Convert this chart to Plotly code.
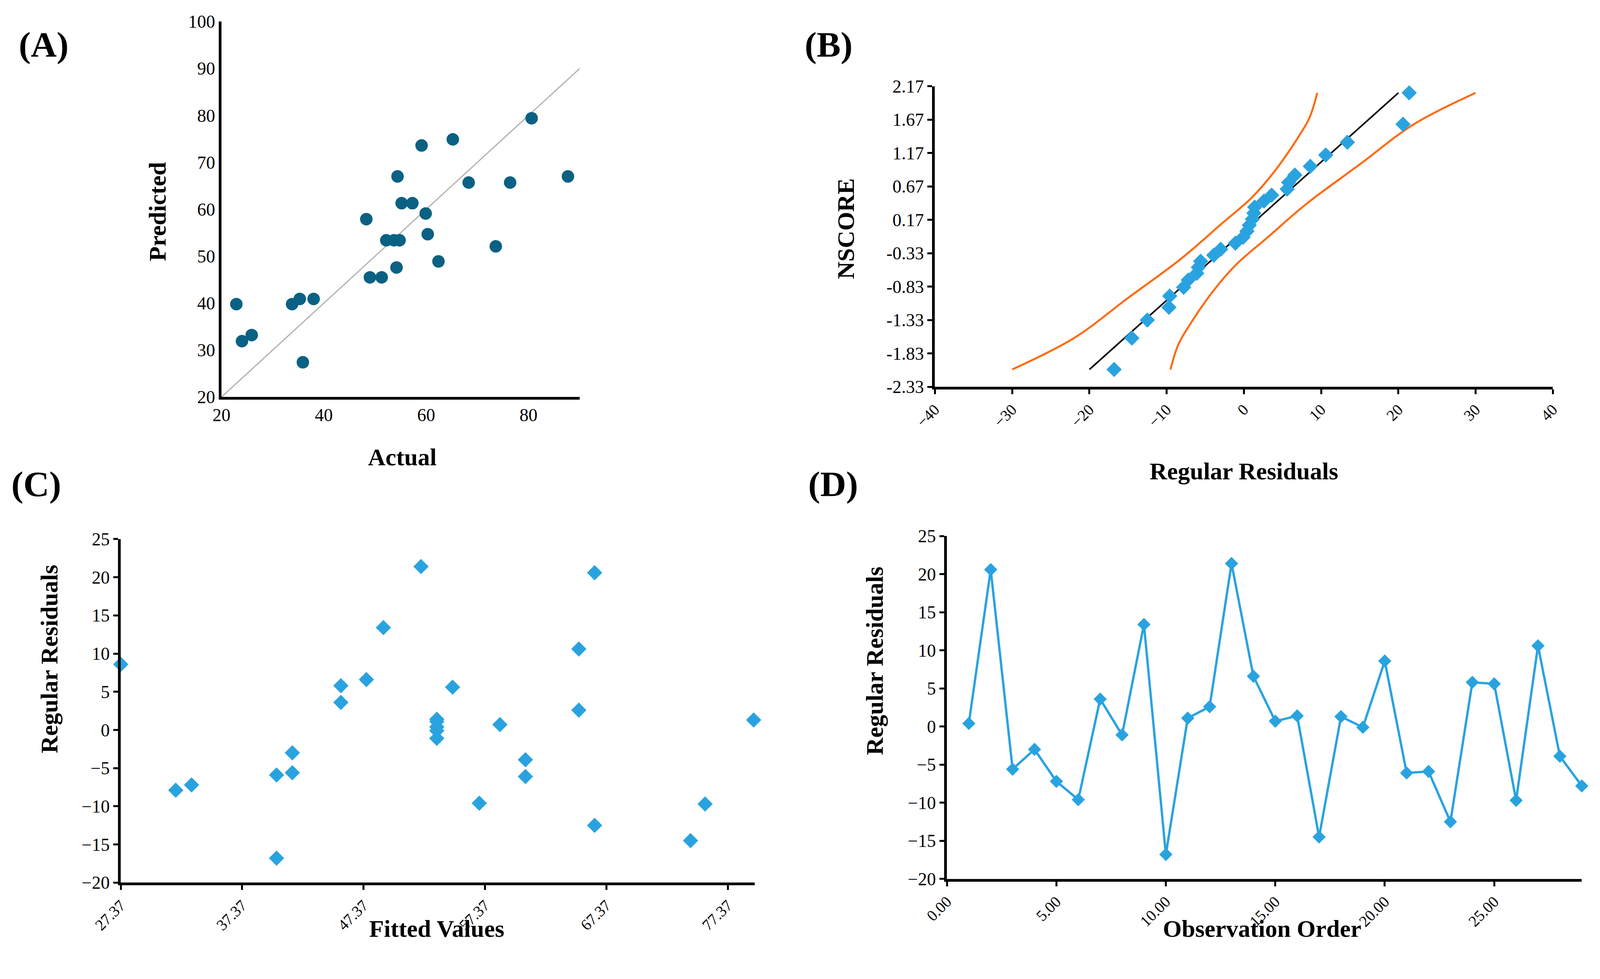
import plotly.graph_objects as go

W, H = 4236, 2506
# Panel A
actual = [22.9,24.0,25.9,33.8,35.3,38.0,35.9,48.3,49.0,51.3,52.2,53.7,54.8,54.2,54.4,55.2,57.3,59.1,59.9,60.3,62.4,65.2,68.3,73.6,76.4,80.6,87.7]
predicted = [39.8,31.9,33.2,39.8,40.9,40.9,27.4,57.9,45.5,45.5,53.4,53.4,53.4,47.6,67.0,61.3,61.3,73.6,59.1,54.7,48.9,74.9,65.7,52.1,65.7,79.4,67.0]
diag = [20, 90]
# Panel B
resid_sorted = [-16.8,-14.5,-12.5,-9.7,-9.6,-7.8,-7.2,-6.1,-5.9,-5.6,-3.9,-3.0,-1.1,-0.1,0.4,0.7,1.1,1.3,1.4,2.6,3.6,5.6,5.8,6.6,8.6,10.6,13.4,20.6,21.4]
nscore = [-2.07,-1.6,-1.33,-1.14,-0.97,-0.84,-0.73,-0.63,-0.54,-0.45,-0.36,-0.27,-0.18,-0.09,0.0,0.09,0.18,0.27,0.36,0.45,0.54,0.63,0.73,0.84,0.97,1.14,1.33,1.6,2.07]
fit_x = [-20, 20]
fit_y = [-2.07, 2.07]
up_x = [-30,-22,-15,-8,-3,1,4,7,8.5,9.5]
up_y = [-2.07,-1.6,-1.0,-0.4,0.1,0.5,0.9,1.4,1.7,2.07]
lo_x = [-9.5,-8.5,-7,-4,-1,3,8,15,22,30]
lo_y = [-2.07,-1.7,-1.4,-0.9,-0.5,-0.1,0.4,1.0,1.6,2.07]
nscore_ticks = [-2.33,-1.83,-1.33,-0.83,-0.33,0.17,0.67,1.17,1.67,2.17]
# Panel C
fitted = [27.37,31.9,33.2,40.2,40.2,41.5,41.5,45.5,45.5,47.6,49.0,52.1,53.4,53.4,53.4,53.4,53.4,54.7,56.9,58.6,60.7,60.7,65.1,65.1,66.4,66.4,74.3,75.5,79.5]
resid_c = [8.6,-7.9,-7.2,-5.9,-16.8,-3.0,-5.6,5.8,3.6,6.6,13.4,21.4,1.4,1.1,0.4,-0.1,-1.1,5.6,-9.6,0.7,-3.9,-6.1,10.6,2.6,20.6,-12.5,-14.5,-9.7,1.3]
fitted_ticks = [27.37,37.37,47.37,57.37,67.37,77.37]
# Panel D
order = list(range(1, 30))
resid_d = [0.4,20.6,-5.6,-3.0,-7.2,-9.6,3.6,-1.1,13.4,-16.8,1.1,2.6,21.4,6.6,0.7,1.4,-14.5,1.3,-0.1,8.6,-6.1,-5.9,-12.5,5.8,5.6,-9.7,10.6,-3.9,-7.8]
order_ticks = [0,5,10,15,20,25]

FONT = "Liberation Serif"
BLUE = "#29a3e0"
TICKF = dict(family=FONT, size=46, color="black")
TICKR = dict(family=FONT, size=40, color="black")

def dom(x0, x1, y0, y1):
    return [x0 / W, x1 / W], [1 - y1 / H, 1 - y0 / H]

fig = go.Figure()
fig.add_trace(go.Scatter(x=diag, y=diag, mode="lines", line=dict(color="#b0b0b0", width=3), xaxis="x", yaxis="y"))
fig.add_trace(go.Scatter(x=actual, y=predicted, mode="markers", marker=dict(color="#0b6183", size=32), xaxis="x", yaxis="y"))
fig.add_trace(go.Scatter(x=up_x, y=up_y, mode="lines", line=dict(color="#ff6a10", width=5, shape="spline"), xaxis="x2", yaxis="y2"))
fig.add_trace(go.Scatter(x=lo_x, y=lo_y, mode="lines", line=dict(color="#ff6a10", width=5, shape="spline"), xaxis="x2", yaxis="y2"))
fig.add_trace(go.Scatter(x=fit_x, y=fit_y, mode="lines", line=dict(color="black", width=4), xaxis="x2", yaxis="y2"))
fig.add_trace(go.Scatter(x=resid_sorted, y=nscore, mode="markers", marker=dict(color=BLUE, size=30, symbol="diamond"), xaxis="x2", yaxis="y2", cliponaxis=False))
fig.add_trace(go.Scatter(x=fitted, y=resid_c, mode="markers", marker=dict(color=BLUE, size=30, symbol="diamond"), xaxis="x3", yaxis="y3", cliponaxis=False))
fig.add_trace(go.Scatter(x=order, y=resid_d, mode="lines+markers", line=dict(color=BLUE, width=6), marker=dict(color=BLUE, size=26, symbol="diamond"), xaxis="x4", yaxis="y4", cliponaxis=False))

ax = dict(showgrid=False, zeroline=False, showline=True, linecolor="black", linewidth=7, automargin=False,
          ticks="outside", tickcolor="black", tickwidth=5, ticklen=12, tickfont=TICKF)

xa, ya = dom(581, 1534, 49, 1048)
xb, yb = dom(2479, 4123, 221, 1021)
xc, yc = dom(313, 2000, 1426, 2340)
xd, yd = dom(2511, 4200, 1418, 2330)

fig.update_layout(
    autosize=True, showlegend=False, plot_bgcolor="white", paper_bgcolor="white",
    margin=dict(l=0, r=0, t=0, b=0, autoexpand=False),
    xaxis=dict(ax, domain=xa, range=[20, 90], tickvals=[20,40,60,80], ticks="", anchor="y"),
    yaxis=dict(ax, domain=ya, range=[20, 100], dtick=10, ticks="", anchor="x"),
    xaxis2=dict(ax, domain=xb, range=[-40, 40], dtick=10, tickangle=-45, tickfont=TICKR, anchor="y2"),
    yaxis2=dict(ax, domain=yb, range=[-2.33, 2.17], tickvals=nscore_ticks, ticktext=[f"{v:.2f}" for v in nscore_ticks], anchor="x2"),
    xaxis3=dict(ax, domain=xc, range=[27.37, 79.6], tickvals=fitted_ticks, ticktext=[f"{v:.2f}" for v in fitted_ticks], tickangle=-45, tickfont=TICKR, anchor="y3"),
    yaxis3=dict(ax, domain=yc, range=[-20, 25], dtick=5, anchor="x3"),
    xaxis4=dict(ax, domain=xd, range=[0, 29], tickvals=order_ticks, ticktext=[f"{v:.2f}" for v in order_ticks], tickangle=-45, tickfont=TICKR, anchor="y4"),
    yaxis4=dict(ax, domain=yd, range=[-20, 25], dtick=5, anchor="x4"),
)

def note(txt, x, y, size, angle=0, anchor="center", yanchor="middle"):
    fig.add_annotation(text=f"<b>{txt}</b>", x=x / W, y=1 - y / H, xref="paper", yref="paper",
                       xanchor=anchor, yanchor=yanchor, showarrow=False, textangle=angle,
                       font=dict(family=FONT, size=size, color="black"))

for txt, x, y in [("(A)", 40, 110), ("(B)", 2130, 110), ("(C)", 20, 1280), ("(D)", 2140, 1280)]:
    note(txt, x, y, 92, anchor="left")
TS = 62
note("Actual", 1062, 1208, TS)
note("Predicted", 411, 554, TS, -90)
note("Regular Residuals", 3301, 1245, TS)
note("NSCORE", 2242, 600, TS, -90)
note("Fitted Values", 1154, 2500, TS, yanchor="bottom")
note("Regular Residuals", 122, 1745, TS, -90)
note("Observation Order", 3350, 2500, TS, yanchor="bottom")
note("Regular Residuals", 2318, 1750, TS, -90)

fig.write_html("out.html", default_width="calc(100vw - 20px)", default_height="calc(97vh - 20px)", config={"responsive": True})
